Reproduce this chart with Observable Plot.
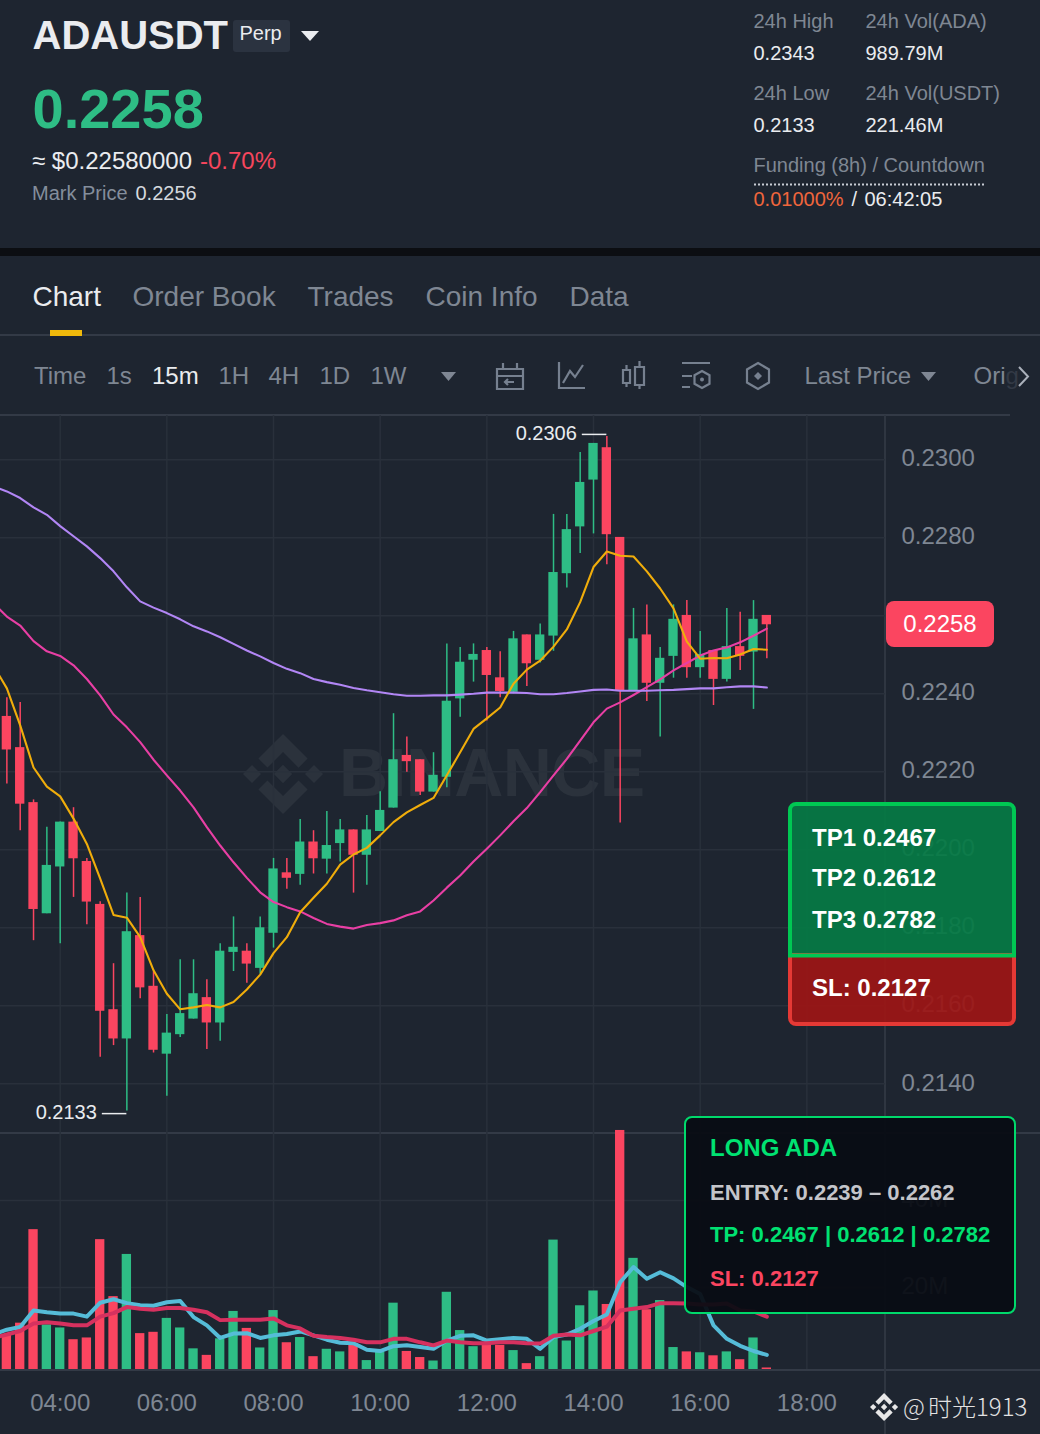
<!DOCTYPE html>
<html><head><meta charset="utf-8">
<script src="https://cdn.jsdelivr.net/npm/d3@7"></script>
<script src="https://cdn.jsdelivr.net/npm/@observablehq/plot@0.6"></script>
<style>
html,body{margin:0;padding:0;background:#1e2530;}
#page{position:relative;width:1040px;height:1434px;overflow:hidden;background:#1e2530;font-family:"Liberation Sans",Arial,sans-serif;}
.layer{position:absolute;left:0;top:0;}
#stripe{position:absolute;left:0;top:248px;width:1040px;height:8px;background:#0c0e12;}
.hl{position:absolute;left:0;width:1040px;background:#333a46;}
#vsep{position:absolute;left:884px;top:415px;width:2px;height:1019px;background:#2f3641;}
svg text{font-family:"Liberation Sans",Arial,sans-serif;}
</style></head><body>
<div id="page">
<div id="stripe"></div>
<div class="hl" style="top:334px;height:2px"></div>
<div class="hl" style="top:414px;height:2px;width:1010px"></div>
<div class="hl" style="top:1132px;height:2px;width:1040px"></div>
<div class="hl" style="top:1369px;height:2px;width:1040px"></div>
<div id="vsep"></div>
<svg class="layer" width="1040" height="1434" viewBox="0 0 1040 1434" style="z-index:1">
  <g fill="#2b323c">
    <g transform="translate(243,734) scale(0.632)">
      <path d="M38.73 53.2l24.59-24.58 24.6 24.6 14.3-14.31L63.32 0 24.42 38.9z"/>
      <path d="M0 63.31l14.3-14.31 14.31 14.31-14.31 14.3z"/>
      <path d="M38.73 73.41l24.59 24.59 24.6-24.6 14.31 14.29-38.9 38.91-38.91-38.88-.02-.02z"/>
      <path d="M98 63.31l14.3-14.31 14.31 14.31-14.31 14.3z"/>
      <path d="M77.83 63.3L63.32 48.78 52.59 59.51l-1.24 1.23-2.54 2.54 14.51 14.5 14.51-14.47z"/>
    </g>
    <text x="339" y="796" font-size="68" font-weight="700" textLength="306" lengthAdjust="spacing">BINANCE</text>
  </g>
</svg>
<div id="pricePlot" class="layer" style="top:415px;z-index:2"></div>
<div id="volPlot" class="layer" style="top:1123px;z-index:2"></div>
<svg class="layer" width="1040" height="1434" viewBox="0 0 1040 1434" style="z-index:3">
  <!-- header -->
  <text x="32.500" y="49" font-size="40" font-weight="700" fill="#eaecef">ADAUSDT</text>
  <rect x="233" y="20" width="57" height="32" rx="3" fill="#2b3340"/>
  <text x="239.500" y="40" font-size="20" fill="#eaecef">Perp</text>
  <path d="M301 31h18l-9 10z" fill="#eaecef"/>
  <text x="32.500" y="128" font-size="56" font-weight="700" fill="#2ebd85">0.2258</text>
  <text x="32" y="169" font-size="24" fill="#eaecef">≈ $0.22580000</text>
  <text x="200" y="169" font-size="24" fill="#f6465d">-0.70%</text>
  <text x="32" y="200" font-size="20" fill="#848e9c">Mark Price</text>
  <text x="135.500" y="200" font-size="20" fill="#d5d9de">0.2256</text>
  <g font-size="20">
    <text x="753.500" y="28" fill="#7f8793">24h High</text>
    <text x="865.500" y="28" fill="#7f8793">24h Vol(ADA)</text>
    <text x="753.500" y="60" fill="#eaecef">0.2343</text>
    <text x="865.500" y="60" fill="#eaecef">989.79M</text>
    <text x="753.500" y="100" fill="#7f8793">24h Low</text>
    <text x="865.500" y="100" fill="#7f8793">24h Vol(USDT)</text>
    <text x="753.500" y="132" fill="#eaecef">0.2133</text>
    <text x="865.500" y="132" fill="#eaecef">221.46M</text>
    <text x="753.500" y="172" fill="#7f8793">Funding (8h) / Countdown</text>
    <text x="753.500" y="206" fill="#f0653c">0.01000%</text>
    <text x="851.500" y="206" fill="#eaecef">/</text>
    <text x="864.500" y="206" fill="#eaecef">06:42:05</text>
  </g>
  <line x1="754" x2="985" y1="184.5" y2="184.5" stroke="#c7ccd3" stroke-width="2" stroke-dasharray="2 2"/>
  <!-- tabs -->
  <g font-size="28" fill="#7f8793">
    <text x="32.500" y="306" fill="#eaecef">Chart</text>
    <text x="132.500" y="306">Order Book</text>
    <text x="307.500" y="306">Trades</text>
    <text x="425.500" y="306">Coin Info</text>
    <text x="569.500" y="306">Data</text>
  </g>
  <rect x="50" y="330" width="32" height="6" fill="#f0b90b"/>
  <!-- toolbar -->
  <g font-size="24" fill="#7f8793">
    <text x="34" y="384">Time</text>
    <text x="106.500" y="384">1s</text>
    <text x="152" y="384" fill="#eaecef">15m</text>
    <text x="218.500" y="384">1H</text>
    <text x="268.500" y="384">4H</text>
    <text x="319.500" y="384">1D</text>
    <text x="370.500" y="384">1W</text>
    <text x="804.500" y="384">Last Price</text>
    <text x="973.500" y="384">Ori<tspan fill="#333a46">g</tspan></text>
  </g>
  <path d="M441 372h15l-7.5 9z" fill="#7f8793"/>
  <path d="M921 372h15l-7.5 9z" fill="#7f8793"/>
  <path d="M1019 367l9 9.5-9 9.5" fill="none" stroke="#aab0ba" stroke-width="2"/>
  <g fill="none" stroke="#76808f" stroke-width="2.2">
    <path d="M497 369h26v20h-26zM497 376h26M503 363v6M517 363v6"/>
    <path d="M514 382h-9m3-3l-3 3 3 3"/>
    <path d="M559 362v26h26M563 383l7-12 5 6 8-12"/>
    <path d="M623 370h7v13h-7zM635 367h9v18h-9zM626.500 365v5M626.500 383v4M639.500 361v6M639.500 385v4"/>
    <path d="M682 363h28M682 376h10M682 387h8"/>
    <path d="M702 371l7.5 4.2v8.6l-7.5 4.2-7.5-4.2v-8.6z"/>
    <path d="M758 363l11 6.5v13l-11 6.5-11-6.5v-13z"/>
  </g>
  <path d="M758 372l4 4-4 4-4-4z" fill="#76808f"/>
  <circle cx="702" cy="379.5" r="2" fill="#76808f"/>
  <!-- last price badge -->
  <rect x="886" y="601" width="108" height="46" rx="8" fill="#fb4560"/>
  <text x="940" y="632" font-size="24" fill="#fff" text-anchor="middle">0.2258</text>
  <!-- TP / SL panel -->
  <path d="M790 957V810a6 6 0 0 1 6-6h212a6 6 0 0 1 6 6v147z" fill="#057a45" fill-opacity=".93"/>
  <path d="M790 955V1018a6 6 0 0 0 6 6h212a6 6 0 0 0 6-6V955z" fill="#9c1515" fill-opacity=".93" stroke="#e53935" stroke-width="4"/>
  <path d="M790 955.5V810a6 6 0 0 1 6-6h212a6 6 0 0 1 6 6v145.500z" fill="none" stroke="#00c853" stroke-width="4"/>
  <g font-size="24" font-weight="700" fill="#fff">
    <text x="812" y="846">TP1 0.2467</text>
    <text x="812" y="886">TP2 0.2612</text>
    <text x="812" y="928">TP3 0.2782</text>
    <text x="812" y="996">SL: 0.2127</text>
  </g>
  <!-- Signal panel -->
  <rect x="685" y="1117" width="330" height="196" rx="7" fill="#090c13" fill-opacity=".94" stroke="#00d96b" stroke-width="2"/>
  <g font-weight="700">
    <text x="710" y="1156" font-size="24" fill="#00e272">LONG ADA</text>
    <text x="710" y="1200" font-size="22" fill="#c4c5ca">ENTRY: 0.2239 – 0.2262</text>
    <text x="710" y="1242" font-size="22" fill="#00e272">TP: 0.2467 | 0.2612 | 0.2782</text>
    <text x="710" y="1286" font-size="22" fill="#fb4560">SL: 0.2127</text>
  </g>
  <!-- credit -->
  <g fill="#e8e8e8" transform="translate(870,1393) scale(0.222)">
    <path d="M38.73 53.2l24.59-24.58 24.6 24.6 14.3-14.31L63.32 0 24.42 38.9z"/>
    <path d="M0 63.31l14.3-14.31 14.31 14.31-14.31 14.3z"/>
    <path d="M38.73 73.41l24.59 24.59 24.6-24.6 14.31 14.29-38.9 38.91-38.91-38.88-.02-.02z"/>
    <path d="M98 63.31l14.3-14.31 14.31 14.31-14.31 14.3z"/>
    <path d="M77.83 63.3L63.32 48.78 52.59 59.51l-1.24 1.23-2.54 2.54 14.51 14.5 14.51-14.47z"/>
  </g>
  <text x="903" y="1416" font-size="24" fill="#e2e2e2" style="font-family:'Noto Sans CJK SC';font-weight:300;">@<tspan x="928">时光1913</tspan></text>
</svg>
</div>
<script>
const times = ["03:00","03:15","03:30","03:45","04:00","04:15","04:30","04:45","05:00","05:15","05:30","05:45","06:00","06:15","06:30","06:45","07:00","07:15","07:30","07:45","08:00","08:15","08:30","08:45","09:00","09:15","09:30","09:45","10:00","10:15","10:30","10:45","11:00","11:15","11:30","11:45","12:00","12:15","12:30","12:45","13:00","13:15","13:30","13:45","14:00","14:15","14:30","14:45","15:00","15:15","15:30","15:45","16:00","16:15","16:30","16:45","17:00","17:15"];
const opens = [.22342,.22262,.22121,.21836,.21956,.22071,.21970,.21860,.21590,.21515,.21780,.21650,.21476,.21526,.21566,.21621,.21556,.21737,.21740,.21696,.21786,.21941,.21937,.22020,.21976,.22016,.22051,.21986,.22047,.22107,.22242,.22231,.22148,.22186,.22387,.22486,.22511,.22441,.22404,.22551,.22486,.22548,.22708,.22828,.22948,.23031,.22801,.22408,.22551,.22427,.22496,.22601,.22467,.22511,.22437,.22521,.22507,.22601];
const highs = [.22390,.22378,.22128,.22058,.22071,.22108,.21978,.21867,.21708,.21889,.21878,.21688,.21578,.21718,.21718,.21667,.21759,.21828,.21759,.21828,.21978,.21978,.22078,.22049,.22098,.22078,.22051,.22088,.22149,.22349,.22289,.22231,.22249,.22528,.22519,.22528,.22519,.22508,.22560,.22551,.22579,.22860,.22860,.23019,.23042,.23060,.22801,.22619,.22628,.22519,.22628,.22639,.22560,.22511,.22619,.22609,.22639,.22601];
const lows = [.22169,.22049,.21767,.21836,.21759,.21878,.21808,.21468,.21498,.21330,.21618,.21479,.21368,.21519,.21566,.21488,.21509,.21688,.21658,.21682,.21748,.21899,.21909,.21938,.21938,.21969,.21889,.21909,.22047,.22107,.22199,.22139,.22148,.22159,.22340,.22430,.22330,.22390,.22400,.22419,.22479,.22509,.22671,.22760,.22810,.22731,.22069,.22408,.22380,.22289,.22440,.22440,.22440,.22370,.22430,.22460,.22360,.22490];
const closes = [.22256,.22117,.21847,.21960,.22071,.21977,.21866,.21586,.21515,.21790,.21646,.21486,.21530,.21580,.21631,.21556,.21740,.21750,.21707,.21800,.21951,.21927,.22020,.21977,.22011,.22051,.21986,.22051,.22101,.22231,.22226,.22148,.22191,.22381,.22481,.22501,.22447,.22406,.22541,.22477,.22551,.22711,.22821,.22942,.23042,.22808,.22408,.22541,.22427,.22491,.22591,.22467,.22501,.22437,.22521,.22496,.22591,.22577];
const volumes = [9.2,11.8,33.3,11.4,10.7,8.0,8.4,31.0,17.9,27.6,9.4,9.7,12.9,10.7,5.9,4.4,8.2,14.5,10.6,6.1,14.7,7.3,8.5,4.1,5.8,5.2,7.1,3.2,5.1,16.4,5.3,3.9,3.1,18.9,10.1,6.4,6.7,6.7,5.5,2.5,4.1,30.9,7.7,15.8,19.2,16.1,56.1,26.7,14.9,17.0,6.2,5.2,5.0,4.3,5.2,3.4,8.4,1.5];
// moving averages begin one bar earlier (off the left edge)
const maStart = "02:45";
const ma7 = [.22472,.22414,.22319,.22211,.22162,.22137,.22080,.22015,.21926,.21833,.21826,.21776,.21691,.21631,.21591,.21596,.21602,.21596,.21610,.21642,.21680,.21735,.21776,.21840,.21877,.21913,.21962,.21988,.22005,.22037,.22071,.22096,.22115,.22133,.22191,.22250,.22310,.22337,.22365,.22426,.22462,.22485,.22521,.22565,.22635,.22725,.22765,.22754,.22752,.22714,.22670,.22619,.22534,.22490,.22492,.22491,.22501,.22515,.22513];
const ma25 = [.22632,.22598,.22575,.22535,.22509,.22497,.22473,.22438,.22396,.22347,.22314,.22276,.22231,.22191,.22152,.22109,.22058,.22011,.21968,.21928,.21891,.21866,.21853,.21842,.21825,.21810,.21803,.21798,.21807,.21812,.21819,.21832,.21842,.21870,.21903,.21934,.21970,.22003,.22037,.22073,.22107,.22148,.22191,.22233,.22280,.22327,.22362,.22378,.22397,.22417,.22437,.22460,.22479,.22498,.22511,.22519,.22532,.22549,.22567];
const ma99 = [.22931,.22919,.22902,.22878,.22859,.22830,.22804,.22778,.22748,.22714,.22673,.22637,.22621,.22607,.22591,.22573,.22560,.22545,.22528,.22511,.22496,.22479,.22464,.22453,.22438,.22430,.22423,.22415,.22409,.22404,.22399,.22395,.22395,.22396,.22396,.22398,.22400,.22403,.22403,.22403,.22402,.22399,.22399,.22402,.22406,.22410,.22411,.22408,.22408,.22408,.22409,.22410,.22412,.22414,.22414,.22417,.22419,.22419,.22416];
const volMaFast = [9.2,10.3,10.9,14.7,14.3,14.0,14.0,13.3,16.5,17.3,16.4,15.9,15.8,16.6,16.9,13.2,11.3,8.4,9.4,9.5,8.4,9.0,9.3,9.9,9.0,8.0,7.3,7.2,5.7,5.4,6.5,6.7,6.3,5.9,7.8,8.9,9.0,7.8,8.1,8.4,8.2,5.9,8.6,9.2,10.5,12.3,13.8,21.2,24.7,22.0,23.5,22.1,20.1,18.5,11.3,8.2,6.6,5.4,4.5];
const volMaSlow = [8.4,9.2,10.0,11.7,12.0,11.7,11.3,11.3,13.3,14.1,15.5,15.1,14.9,15.3,15.3,14.9,14.3,12.5,12.6,12.6,12.6,12.9,11.3,10.6,8.9,8.6,8.4,8.0,7.4,7.4,8.2,8.2,7.4,6.7,7.8,7.4,7.2,7.2,7.4,7.4,7.2,7.1,8.9,9.2,9.0,10.0,11.0,14.7,15.1,15.5,16.4,16.4,16.3,16.1,16.1,16.3,14.7,14.5,13.3];
const priceTicks = [.2300,.2280,.2260,.2240,.2220,.2200,.2180,.2160,.2140];
const volumeTicks = [20,40];
const hourTicks = [4,6,8,10,12,14,16,18];
const highMark = {time:"14:15", price:.2306};
const lowMark = {time:"05:15", price:.2133};

const UP="#2ebd85", DOWN="#fb4560", GRID="#29303b", AXIS="#7f8793", LABEL="#eaecef";
const toHour = s => { const [h,m]=s.split(":").map(Number); return h+m/60; };
const candles = times.map((t,i)=>({h:toHour(t),open:opens[i],high:highs[i],low:lows[i],close:closes[i],volume:volumes[i],color:closes[i]>=opens[i]?UP:DOWN}));
const maTimes = [maStart,...times].map(toHour);
const series = a => a.map((v,i)=>({h:maTimes[i],v}));
const xDomain = [2.8806,19.475];
const halfBar = 0.0875;
const font = {fontFamily:'"Liberation Sans",Arial,sans-serif',background:"transparent",overflow:"visible"};
const extreme = (mark, lineDy, textDy) => [
  Plot.ruleY([mark],{y:"price",x1:d=>toHour(d.time)-0.46,x2:d=>toHour(d.time),dy:lineDy,stroke:LABEL,strokeWidth:1.5}),
  Plot.text([mark],{x:d=>toHour(d.time),y:"price",text:d=>d.price.toFixed(4),textAnchor:"end",dx:-30,dy:textDy,fill:LABEL,fontSize:20})
];

const pricePlot = Plot.plot({
  width:1040,height:718,marginLeft:0,marginRight:155,marginTop:0,marginBottom:0,style:font,
  x:{domain:xDomain,axis:null},
  y:{domain:[.212726,.231136]},
  marks:[
    Plot.ruleX(hourTicks,{stroke:GRID,strokeWidth:1.5}),
    Plot.ruleY(priceTicks,{stroke:GRID,strokeWidth:1.5}),
    Plot.axisY(priceTicks,{anchor:"right",tickSize:0,tickPadding:16,dy:-1,tickFormat:d=>d.toFixed(4),fill:AXIS,fontSize:24,label:null}),
    Plot.ruleX(candles,{x:"h",y1:"low",y2:"high",stroke:d=>d.color,strokeWidth:1.5}),
    Plot.rectY(candles,{x1:d=>d.h-halfBar,x2:d=>d.h+halfBar,y1:"open",y2:"close",fill:d=>d.color}),
    Plot.line(series(ma25),{x:"h",y:"v",stroke:"#e83fa4",strokeWidth:2.1,clip:true}),
    Plot.line(series(ma99),{x:"h",y:"v",stroke:"#b286f5",strokeWidth:2.1,clip:true}),
    Plot.line(series(ma7),{x:"h",y:"v",stroke:"#f0ad0b",strokeWidth:2.1,clip:true}),
    ...extreme(highMark,-2,-3),
    ...extreme(lowMark,2.5,1.5)
  ]
});
document.getElementById("pricePlot").append(pricePlot);

const volPlot = Plot.plot({
  width:1040,height:311,marginLeft:0,marginRight:155,marginTop:0,marginBottom:65,style:font,
  x:{domain:xDomain,axis:null},
  y:{domain:[1.15,57.7]},
  marks:[
    Plot.ruleX(hourTicks,{y1:1.15,y2:55.4,stroke:GRID,strokeWidth:1.5}),
    Plot.ruleY(volumeTicks,{stroke:GRID,strokeWidth:1.5}),
    Plot.axisY(volumeTicks,{anchor:"right",tickSize:0,tickPadding:16,dy:-1,tickFormat:d=>d+"M",fill:AXIS,fontSize:24,label:null}),
    Plot.axisX(hourTicks,{anchor:"bottom",tickSize:0,tickPadding:24,tickFormat:d=>String(d).padStart(2,"0")+":00",fill:AXIS,fontSize:24,label:null}),
    Plot.rectY(candles,{x1:d=>d.h-halfBar,x2:d=>d.h+halfBar,y1:1.15,y2:"volume",fill:d=>d.color}),
    Plot.line(series(volMaFast),{x:"h",y:"v",stroke:"#55bcd8",strokeWidth:4,clip:true}),
    Plot.line(series(volMaSlow),{x:"h",y:"v",stroke:"#d6315f",strokeWidth:4,clip:true})
  ]
});
document.getElementById("volPlot").append(volPlot);
</script>
</body></html>
